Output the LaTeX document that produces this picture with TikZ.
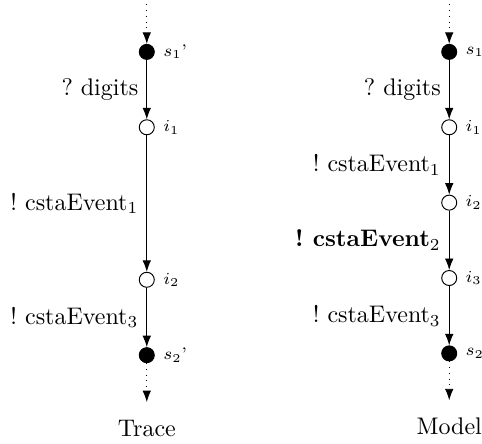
\documentclass[tikz,border=0pt]{standalone}
\usetikzlibrary{arrows.meta,positioning}

\tikzset{
  obs/.style={circle, draw, fill=black, minimum size=2.2mm, inner sep=0pt},
  hid/.style={circle, draw, fill=white, minimum size=2.2mm, inner sep=0pt},
  tag/.style={font=\scriptsize, label distance=0mm}
}

\begin{document}
\begin{tikzpicture}[>=Latex, node distance=8.7mm]
    \useasboundingbox (0,0) rectangle (7.06,-6.49);
    % Trace
    \node[obs, label={[tag]right:$s_1$'}] (ts1) at (2.15,-0.76) {};
    \node[hid, label={[tag]right:$i_1$}, below=of ts1] (ti1) {};
    \node[hid, label={[tag]right:$i_2$}, below=20mm of ti1] (ti2) {};
    \node[obs, label={[tag]right:$s_2$'}, below=of ti2] (ts2) {};
    \coordinate[above=5.8mm of ts1] (tin);
    \coordinate[below=5.7mm of ts2] (tout);
    \node[below=1.4mm of tout] (trace) {Trace};
    % Model
    \node[obs, label={[tag]right:$s_1$}] (ms1) at (6.58,-0.76) {};
    \node[hid, label={[tag]right:$i_1$}, below=of ms1] (mi1) {};
    \node[hid, label={[tag]right:$i_2$}, below=of mi1] (mi2) {};
    \node[hid, label={[tag]right:$i_3$}, below=of mi2] (mi3) {};
    \node[obs, label={[tag]right:$s_2$}, below=of mi3] (ms2) {};
    \coordinate[above=5.8mm of ms1] (min);
    \coordinate[below=5.7mm of ms2] (mout);
    \node[below=1.4mm of mout] (model) {Model};

    % Arrows
    \draw[->, dotted] (tin) -- (ts1);
    \draw[->] (ts1) -- node[left] {?\ digits} (ti1);
    \draw[->] (ti1) -- node[left] {!\ cstaEvent$_1$} (ti2);
    \draw[->] (ti2) -- node[left] {!\ cstaEvent$_3$} (ts2);
    \draw[->, dotted] (ts2) -- (tout);
    \draw[->, dotted] (min) -- (ms1);
    \draw[->] (ms1) -- node[left] {?\ digits} (mi1);
    \draw[->] (mi1) -- node[left] {!\ cstaEvent$_1$} (mi2);
    \draw[->] (mi2) -- node[left] {\textbf{!\ cstaEvent}$_2$} (mi3);
    \draw[->] (mi3) -- node[left] {!\ cstaEvent$_3$} (ms2);
    \draw[->, dotted] (ms2) -- (mout);
\end{tikzpicture}
\end{document}
